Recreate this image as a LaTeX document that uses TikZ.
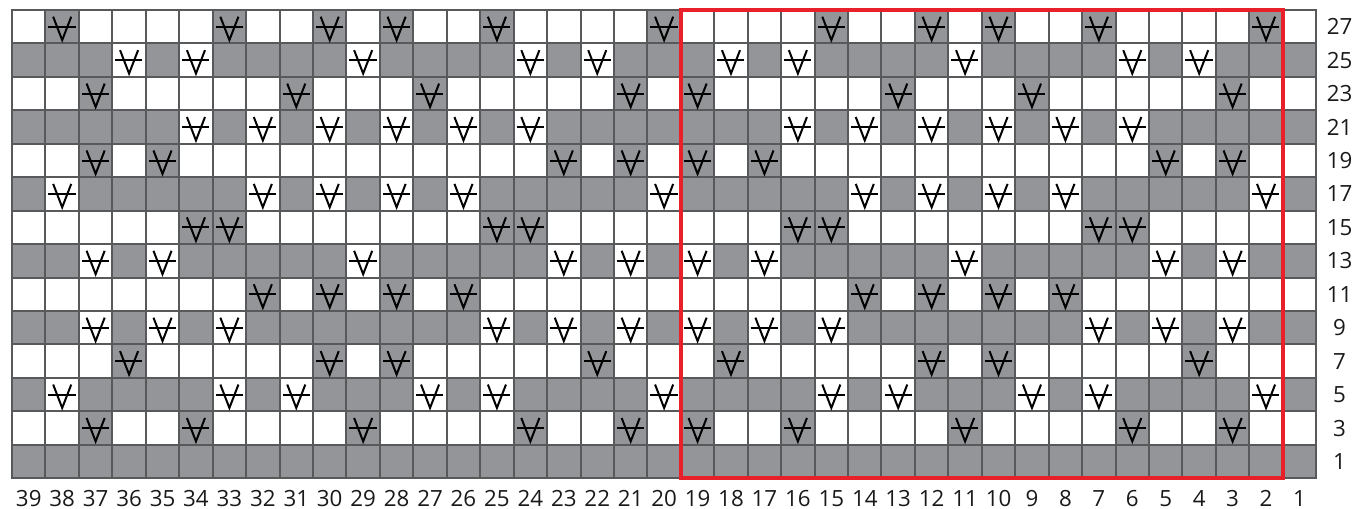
\documentclass[tikz,border=0pt]{standalone}
\usepackage{fontspec}
\setsansfont{Open Sans}
\usepackage{tikz}
\usetikzlibrary{calc}
\definecolor{chartgray}{HTML}{939598}
\definecolor{gridgray}{HTML}{58595B}
\definecolor{repred}{HTML}{E8202A}
\tikzset{
  % diagram
  cell/.style={draw=gridgray,line width=0.85pt},
  slip/.style={draw=black,line width=0.85pt},
  numlbl/.style={font=\sffamily\fontsize{9.5}{9.5}\selectfont,inner sep=0pt,text=black!90},
  repeatbox/.style={draw=repred,line width=1.8pt},
}

\begin{document}
\begin{tikzpicture}[x=0.5cm,y=0.5cm]
\useasboundingbox (-0.36,-0.9) rectangle (40.25,14.3);
  % bakgrund, rad för rad
  \foreach \r in {1,...,14}{
    \ifodd\r \def\rowbg{chartgray}\else\def\rowbg{white}\fi
    \foreach \c in {1,...,39}
      \draw[cell,fill=\rowbg] ({39-\c},{\r-1}) rectangle ++(1,1);
  }
  % maskor som lyfts
  \foreach \r/\cl in {2/{37,34,29,24,21,19,16,11,6,3},
                      3/{38,33,31,27,25,20,15,13,9,7,2},
                      4/{36,30,28,22,18,12,10,4},
                      5/{37,35,33,25,23,21,19,17,15,7,5,3},
                      6/{32,30,28,26,14,12,10,8},
                      7/{37,35,29,23,21,19,17,11,5,3},
                      8/{34,33,25,24,16,15,7,6},
                      9/{38,32,30,28,26,20,14,12,10,8,2},
                      10/{37,35,23,21,19,17,5,3},
                      11/{34,32,30,28,26,24,16,14,12,10,8,6},
                      12/{37,31,27,21,19,13,9,3},
                      13/{36,34,29,24,22,18,16,11,6,4},
                      14/{38,33,30,28,25,20,15,12,10,7,2}}{
    \ifodd\r \def\symbg{white}\else\def\symbg{chartgray}\fi
    \foreach \c in \cl {
      \draw[cell,fill=\symbg] ({39-\c},{\r-1}) rectangle ++(1,1);
      \draw[slip] ({39.23-\c},{\r-0.2}) -- ({39.5-\c},{\r-0.9}) -- ({39.77-\c},{\r-0.2});
      \draw[slip] ({39.09-\c},{\r-0.5}) -- ({39.9-\c},{\r-0.5});
    }
  }
  % rapport
  \draw[repeatbox] (20,0) rectangle (38,14);
  % numrering
  \foreach \c in {1,...,39}
    \node[numlbl] (col\c) at ({39.5-\c},-0.6) {\c};
  \foreach \r in {1,...,14}{
    \pgfmathtruncatemacro\rn{2*\r-1}
    \node[numlbl] (row\rn) at (39.7,{\r-0.5}) {\rn};
  }
\end{tikzpicture}
\end{document}
